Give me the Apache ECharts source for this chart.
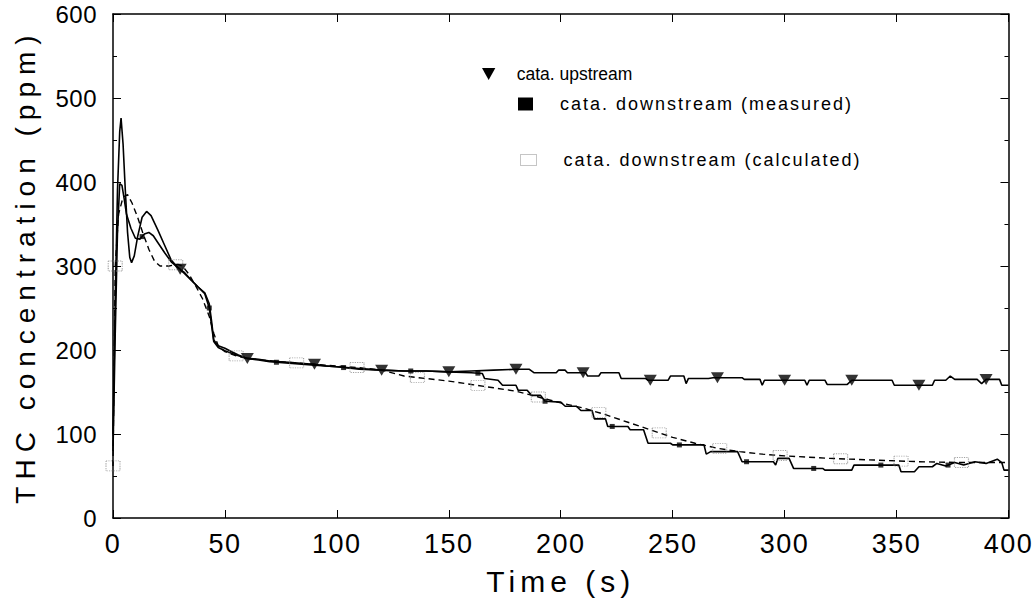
<!DOCTYPE html>
<html>
<head>
<meta charset="utf-8">
<script src="https://cdn.jsdelivr.net/npm/echarts@6/dist/echarts.min.js"></script>
<style>
  html, body { margin: 0; padding: 0; background: #fff; }
  #chart { width: 1034px; height: 602px; }
  /* letter spacing keyed to each text size (SVG renderer) */
  #chart text[style*="28px"] { letter-spacing: 7px; }
  #chart text[style*="30px"] { letter-spacing: 5px; }
  #chart text[style*="27px"] { letter-spacing: 1.5px; }
  #chart text[style*="24px"] { letter-spacing: 0.5px; }
  #chart text[style*="18px"] { letter-spacing: 2px; }
</style>
</head>
<body>
<div id="chart"></div>
<script>
// ---------- data (time s, THC ppm) ----------
const xTicks = [0, 50, 100, 150, 200, 250, 300, 350, 400];
const yTicks = [0, 100, 200, 300, 400, 500, 600];

const seriesNames = ['cata. upstream', 'cata. downstream (measured)', 'cata. downstream (calculated)'];

const upstream = [
  [0,100],[1,260],[2,390],[3,460],[3.6,476],[4.5,445],[5.5,390],[6.5,340],[7.5,310],[8.3,304],
  [9.5,312],[11,335],[13,358],[15,365],[17,360],[20,343],[23,325],[26,307],[29,298],[32,292],
  [35,283],[38,275],[41,268],[43,255],[44,235],[45,212],[47,205],[50,202],[53,198],[56,194],
  [60,190],[65,189],[70,187],[75,186],[80,185],[85,184],[90,183],[95,181],[100,180],[110,178],
  [120,176],[130,175],[140,175],[150,174],[160,175],[170,176],[180,177],[186,177],[188,173],[198,173],
  [199,176],[202,176],[203,173],[211,173],[212,169],[217,169],[218,173],[226,173],[227,166],[238,166],
  [239,164],[248,164],[249,169],[255,169],[256,160],[257,166],[266,166],[268,167],[281,167],[282,165],
  [289,165],[290,158],[291,164],[309,164],[310,158],[311,164],[318,164],[319,159],[328,159],[330,164],
  [348,164],[349,158],[366,158],[367,164],[372,164],[374,169],[376,165],[386,165],[388,160],[390,165],
  [396,165],[397,158],[400,158]
];

const measured = [
  [0,80],[1,220],[2,340],[3,398],[4,396],[5,380],[6,362],[8,345],[10,333],[12,332],
  [14,338],[16,340],[18,336],[20,328],[23,316],[26,305],[29,298],[32,291],[35,283],[38,275],
  [41,267],[43,250],[44,230],[45,210],[47,203],[50,199],[55,194],[60,190],[65,188],[70,186],
  [80,184],[90,182],[100,180],[110,177],[120,176],[130,175],[140,175],[150,174],[160,173],[165,172],
  [166,166],[172,164],[174,158],[180,158],[181,152],[185,152],[187,146],[191,146],[193,139],[200,138],
  [202,133],[207,133],[209,128],[214,128],[215,118],[220,118],[221,109],[230,109],[231,105],[237,105],
  [239,89],[249,89],[250,87],[264,87],[265,76],[267,79],[279,79],[281,67],[295,67],[296,63],
  [297,71],[302,71],[304,59],[317,59],[318,57],[330,57],[331,63],[351,63],[352,55],[358,55],
  [360,61],[366,61],[368,65],[372,62],[376,66],[380,63],[385,67],[390,65],[395,70],[397,66],
  [398,57],[400,57]
];

const calculated = [
  [0,62],[1,300],[2.5,362],[4.5,382],[6.5,385],[8.5,375],[11,358],[13.5,338],[16,320],[18.5,306],
  [21,300],[25,300],[29,302],[31,300],[34,290],[37,276],[40,261],[43,240],[45,220],[47,205],
  [50,198],[55,193],[60,190],[70,187],[80,185],[90,183],[100,181],[110,179],[120,176],[130,169],
  [140,166],[150,163],[160,159],[170,155],[180,151],[190,144],[200,137],[210,131],[220,123],[230,114],
  [240,105],[250,96],[260,89],[270,83],[280,79],[290,76],[300,74],[320,71],[340,69],[360,67],
  [380,66],[400,66]
];

// times at which the symbols are drawn on each curve
const upstreamMarkTimes = [30, 60, 90, 120, 150, 180, 210, 240, 270, 300, 330, 360, 390];
const measuredMarkTimes = [13, 43, 73, 103, 133, 163, 193, 223, 253, 283, 313, 343, 373];
const calculatedMarkTimes = [0, 1, 28, 55, 82, 109, 136, 163, 190, 217, 244, 271, 298, 325, 352, 379];

// ---------- helpers ----------
function valueAt(curve, t) {
  for (let i = 1; i < curve.length; i++) {
    const a = curve[i - 1], b = curve[i];
    if (t >= a[0] && t <= b[0]) {
      const f = b[0] === a[0] ? 0 : (t - a[0]) / (b[0] - a[0]);
      return a[1] + f * (b[1] - a[1]);
    }
  }
  return curve[curve.length - 1][1];
}
function marks(curve, times) { return times.map(t => [t, valueAt(curve, t)]); }

const FONT = "'Liberation Sans', Arial, Helvetica, sans-serif";
const triPath = 'path://M0,0L10,0L5,9Z';

const axisLineStyle = { color: '#000', width: 1.5 };
const tickStyle = { color: '#000', width: 1 };

const chart = echarts.init(document.getElementById('chart'), null, { renderer: 'svg' });

const option = {
  animation: false,
  backgroundColor: '#fff',
  grid: { left: 113, right: 25, top: 14, bottom: 84, containLabel: false },
  xAxis: [
    {
      type: 'value', min: xTicks[0], max: xTicks[xTicks.length - 1], interval: 50,
      position: 'bottom',
      name: 'Time (s)', nameLocation: 'middle', nameGap: 48,
      nameTextStyle: { fontFamily: FONT, fontSize: 30, color: '#000' },
      axisLine: { show: true, onZero: false, lineStyle: axisLineStyle },
      axisTick: { show: true, inside: true, length: 8, lineStyle: tickStyle },
      axisLabel: { show: true, margin: 12, fontFamily: FONT, fontSize: 27, color: '#000' },
      splitLine: { show: false }
    },
    {
      type: 'value', min: xTicks[0], max: xTicks[xTicks.length - 1], interval: 50,
      position: 'top',
      axisLine: { show: true, onZero: false, lineStyle: axisLineStyle },
      axisTick: { show: true, inside: true, length: 8, lineStyle: tickStyle },
      axisLabel: { show: false },
      splitLine: { show: false }
    }
  ],
  yAxis: [
    {
      type: 'value', min: yTicks[0], max: yTicks[yTicks.length - 1], interval: 100,
      position: 'left',
      name: 'THC concentration (ppm)', nameLocation: 'middle', nameGap: 74,
      nameTextStyle: { fontFamily: FONT, fontSize: 28, color: '#000' },
      axisLine: { show: true, onZero: false, lineStyle: axisLineStyle },
      axisTick: { show: true, inside: true, length: 8, lineStyle: tickStyle },
      minorTick: { show: true, splitNumber: 2, length: 4, lineStyle: tickStyle },
      axisLabel: { show: true, margin: 16, fontFamily: FONT, fontSize: 24, color: '#000' },
      splitLine: { show: false }
    },
    {
      type: 'value', min: yTicks[0], max: yTicks[yTicks.length - 1], interval: 100,
      position: 'right',
      axisLine: { show: true, onZero: false, lineStyle: axisLineStyle },
      axisTick: { show: true, inside: true, length: 8, lineStyle: tickStyle },
      minorTick: { show: true, splitNumber: 2, length: 4, lineStyle: tickStyle },
      axisLabel: { show: false },
      splitLine: { show: false }
    }
  ],
  legend: [
    {
      data: [{ name: seriesNames[0], icon: triPath }],
      left: 482, top: 65, padding: 0, itemWidth: 14, itemHeight: 12,
      itemStyle: { color: '#000', borderWidth: 0 },
      textStyle: { fontFamily: FONT, fontSize: 17.5, color: '#000', padding: [0, 0, 0, 16] },
      selectedMode: false
    },
    {
      data: [{ name: seriesNames[1], icon: 'rect' }],
      left: 518, top: 95, padding: 0, itemWidth: 15, itemHeight: 13,
      itemStyle: { color: '#000', borderWidth: 0 },
      textStyle: { fontFamily: FONT, fontSize: 18, color: '#000', padding: [0, 0, 0, 22] },
      selectedMode: false
    },
    {
      data: [{ name: seriesNames[2], icon: 'rect' }],
      left: 520, top: 151, padding: 0, itemWidth: 16, itemHeight: 11,
      itemStyle: { color: '#fff', borderColor: '#8a8a8a', borderWidth: 1, borderType: 'dotted' },
      textStyle: { fontFamily: FONT, fontSize: 18, color: '#000', padding: [0, 0, 0, 22] },
      selectedMode: false
    }
  ],
  series: [
    {
      name: seriesNames[2], type: 'line', data: calculated, showSymbol: false,
      xAxisIndex: 0, yAxisIndex: 0,
      lineStyle: { color: '#000', width: 1.4, type: [6, 4] }, z: 2
    },
    {
      name: seriesNames[1], type: 'line', data: measured, showSymbol: false,
      xAxisIndex: 0, yAxisIndex: 0,
      lineStyle: { color: '#000', width: 1.6 }, z: 3
    },
    {
      name: seriesNames[0], type: 'line', data: upstream, showSymbol: false,
      xAxisIndex: 0, yAxisIndex: 0,
      lineStyle: { color: '#000', width: 1.6 }, z: 3
    },
    {
      name: seriesNames[2], type: 'scatter', data: marks(calculated, calculatedMarkTimes),
      xAxisIndex: 0, yAxisIndex: 0,
      symbol: 'rect', symbolSize: [14, 10],
      itemStyle: { color: 'rgba(255,255,255,0)', borderColor: '#8a8a8a', borderWidth: 1, borderType: 'dotted' },
      z: 4
    },
    {
      name: seriesNames[1], type: 'scatter', data: marks(measured, measuredMarkTimes),
      xAxisIndex: 0, yAxisIndex: 0,
      symbol: 'rect', symbolSize: 5,
      itemStyle: { color: '#000' }, z: 5
    },
    {
      name: seriesNames[0], type: 'scatter', data: marks(upstream, upstreamMarkTimes),
      xAxisIndex: 0, yAxisIndex: 0,
      symbol: triPath, symbolSize: [13, 11],
      itemStyle: { color: '#000' }, z: 5
    }
  ]
};
chart.setOption(option);
</script>
</body>
</html>
